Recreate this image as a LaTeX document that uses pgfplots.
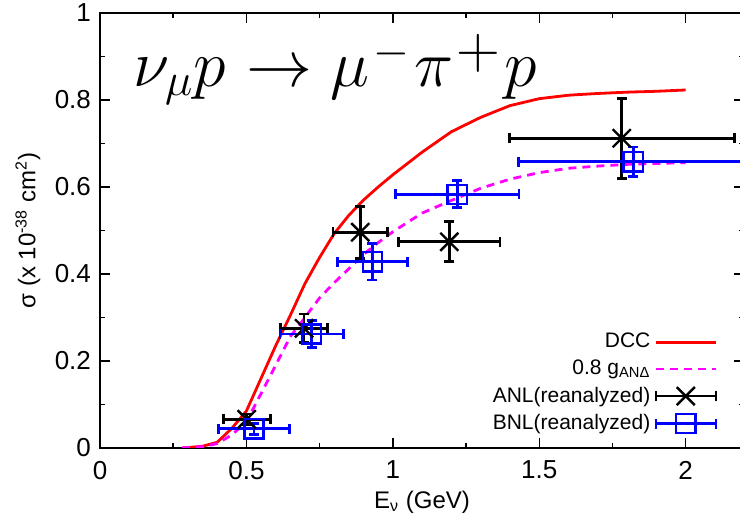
\RequirePackage{fix-cm}
\documentclass[border=0pt]{standalone}
\usepackage{fontspec}
\setmainfont{Liberation Sans}
\usepackage{graphicx}
\usepackage{pgfplots}
\pgfplotsset{compat=1.18}
\definecolor{cRed}{HTML}{FF0000}
\definecolor{cMag}{HTML}{FF00FF}
\definecolor{cBlue}{HTML}{0000FF}

\pgfplotsset{
  errleg/.style={legend image code/.code={
    \draw[##1,mark=none] (7pt,0pt) -- (37pt,0pt)
      (7pt,-2.5pt) -- (7pt,2.5pt) (37pt,-2.5pt) -- (37pt,2.5pt);
    \draw[##1] plot coordinates {(22pt,0pt)};}},
}

\begin{document}
\begin{tikzpicture}
\begin{axis}[
  scale only axis, width=322.1pt, height=217.5pt,
  xmin=0, xmax=2.2, ymin=0, ymax=1,
  xtick={0,0.5,1,1.5,2}, minor xtick={0.25,0.75,1.25,1.75},
  ytick={0,0.2,0.4,0.6,0.8,1}, minor ytick={0.1,0.3,0.5,0.7,0.9},
  tick align=inside, tick pos=both,
  xticklabel pos=lower, yticklabel pos=left,
  major tick length=5pt, minor tick length=2.5pt,
  tick style={black, line width=0.7pt},
  axis line style={line width=1pt},
  /pgf/number format/assume math mode=true,
  tick label style={font=\fontsize{13}{15}\selectfont},
  xticklabel style={yshift=-3pt},
  yticklabel style={xshift=-1pt},
  label style={font=\fontsize{12}{14}\selectfont},
  xlabel={E\textsubscript{ν} (GeV)},
  ylabel={σ (x 10\textsuperscript{-38} cm\textsuperscript{2})},
  xlabel style={at={(axis description cs:0.5,-0.124)}, anchor=center},
  ylabel style={at={(axis description cs:-0.1118,0.5)}, anchor=center},
  legend style={draw=none, fill=none, at={(0.968,0.283)}, anchor=north east,
    font=\fontsize{10.5}{12}\selectfont, row sep=0.6pt, cells={anchor=east}},
  legend plot pos=right,
  legend image code/.code={\draw[#1] (7pt,0pt) -- (37pt,0pt);},
]
\addplot[cRed, line width=1.4pt] coordinates {
  (0.28,0) (0.30,0.001) (0.35,0.004) (0.40,0.013) (0.45,0.045) (0.50,0.085)
  (0.55,0.160) (0.60,0.235) (0.65,0.305) (0.70,0.378) (0.75,0.438) (0.80,0.493)
  (0.85,0.535) (0.90,0.570) (0.95,0.600) (1.00,0.628) (1.10,0.680) (1.20,0.727)
  (1.30,0.760) (1.40,0.787) (1.50,0.803) (1.60,0.811) (1.70,0.815) (1.80,0.818)
  (1.90,0.820) (2.00,0.823)};
\addlegendentry{DCC}
\addplot[cMag, line width=1.4pt, dash pattern=on 4pt off 3pt] coordinates {
  (0.28,0) (0.30,0.001) (0.35,0.003) (0.40,0.010) (0.45,0.030) (0.50,0.060)
  (0.55,0.125) (0.60,0.190) (0.65,0.256) (0.70,0.300) (0.75,0.345) (0.80,0.380)
  (0.85,0.412) (0.90,0.445) (0.95,0.472) (1.00,0.497) (1.10,0.540) (1.20,0.569)
  (1.30,0.597) (1.40,0.618) (1.50,0.633) (1.60,0.643) (1.70,0.648) (1.80,0.652)
  (1.90,0.654) (2.00,0.656)};
\addlegendentry{0.8 g\textsubscript{ANΔ}}
\addplot[black, only marks, mark=x, mark size=6.4pt, line width=1.2pt, errleg,
  error bars/.cd, x dir=both, x explicit, y dir=both, y explicit,
  error bar style={line width=1.4pt},
  error mark=-,
  error mark options={line width=1.4pt, mark size=2.5pt, rotate=90}]
  coordinates {
  (0.501,0.066) +- (0.080,0.012)
  (0.697,0.275) +- (0.080,0.033)
  (0.889,0.496) +- (0.093,0.060)
  (1.193,0.474) +- (0.173,0.046)
  (1.782,0.712) +- (0.384,0.092)};
\addlegendentry{ANL(reanalyzed)}
\addplot[cBlue, only marks, mark=square, mark size=4.8pt, line width=1.2pt, errleg,
  error bars/.cd, x dir=both, x explicit, y dir=both, y explicit,
  error bar style={line width=1.4pt},
  error mark=-,
  error mark options={line width=1.4pt, mark size=2.5pt, rotate=90}]
  coordinates {
  (0.526,0.044) +- (0.120,0.013)
  (0.723,0.262) +- (0.108,0.031)
  (0.930,0.428) +- (0.120,0.042)
  (1.220,0.583) +- (0.211,0.031)
  (1.821,0.658) +- (0.392,0.034)};
\addlegendentry{BNL(reanalyzed)}
\node[anchor=base west, font=\fontsize{33}{40}\selectfont, inner sep=0pt]
  at (axis cs:0.112,0.832)
  {$\nu_\mu p\hspace{1pt}\rightarrow
    \mu^{\hspace{2pt}\raisebox{-1.5pt}{$\scriptstyle -$}}\hspace{2pt}
    \pi^{\hspace{1.5pt}\raisebox{-3pt}{\scalebox{0.92}{$+$}}}\hspace{2pt}p$};
\coordinate (bbl) at (axis cs:-0.3415,-0.154);
\coordinate (btr) at (axis cs:2.1858,1.0299);
\end{axis}
\pgfresetboundingbox
\path[use as bounding box] (bbl) rectangle (btr);
\end{tikzpicture}
\end{document}
